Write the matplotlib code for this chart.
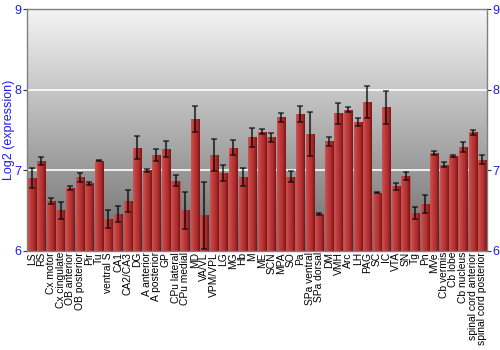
import numpy as np
import matplotlib
matplotlib.use('Agg')
import matplotlib.pyplot as plt
from matplotlib.colors import LinearSegmentedColormap

# regions and log2 expression (mean, error)
regions = ['LS', 'RS', 'Cx motor', 'Cx cingulate', 'OB anterior', 'OB posterior', 'Pir', 'Tu',
           'ventral S', 'CA1', 'CA2/CA3', 'DG', 'A anterior', 'A posterior', 'GP', 'CPu lateral',
           'CPu medial', 'MD', 'VA/VL', 'VPM/VPL', 'LG', 'MG', 'Hb', 'M', 'ME', 'SCN', 'MPA', 'SO',
           'Pa', 'SPa ventral', 'SPa dorsal', 'DM', 'VMH', 'Arc', 'LH', 'PAG', 'SC', 'IC', 'VTA',
           'SN', 'Tg', 'Pn', 'MVe', 'Cb vermis', 'Cb lobe', 'Cb nucleus', 'spinal cord anterior',
           'spinal cord posterior']
values = [6.90, 7.12, 6.62, 6.50, 6.78, 6.91, 6.84, 7.12,
          6.39, 6.46, 6.62, 7.28, 7.00, 7.19, 7.26, 6.87,
          6.50, 7.64, 6.44, 7.19, 6.97, 7.28, 6.92, 7.41, 7.48, 7.41, 7.66, 6.92,
          7.70, 7.45, 6.46, 7.36, 7.71, 7.75, 7.60, 7.85, 6.72, 7.78, 6.80,
          6.93, 6.47, 6.58, 7.21, 7.07, 7.18, 7.29, 7.47,
          7.13]
errors = [0.125, 0.05, 0.04, 0.11, 0.03, 0.06, 0.02, 0.005,
          0.11, 0.10, 0.14, 0.14, 0.02, 0.08, 0.10, 0.07,
          0.23, 0.16, 0.42, 0.20, 0.10, 0.095, 0.11, 0.12, 0.03, 0.055, 0.055, 0.065,
          0.10, 0.27, 0.012, 0.055, 0.13, 0.03, 0.05, 0.195, 0.005, 0.20, 0.04,
          0.05, 0.075, 0.11, 0.025, 0.03, 0.015, 0.065, 0.035,
          0.055]
yticks = [6, 7, 8, 9]

blue = '#1a1aff'
plt.rcParams['font.family'] = ['Liberation Sans', 'DejaVu Sans']

fig = plt.figure(figsize=(5, 3.5), dpi=100)
ax = fig.add_axes([0.054, 0.2837, 0.92, 0.6897])

# background gradient
bg = np.linspace(0, 1, 256).reshape(-1, 1)
bgmap = LinearSegmentedColormap.from_list('bg', ['#f4f4f4', '#6c6c6c'])
ax.imshow(bg, extent=[0, 1, 0, 1], transform=ax.transAxes, aspect='auto',
          cmap=bgmap, zorder=0)

for t in yticks[1:-1]:
    ax.axhline(t, color='white', lw=1.2, zorder=1)

x = np.arange(len(regions))
bars = ax.bar(x, np.array(values) - 6, bottom=6, width=0.86, color='#b03333',
              edgecolor='#c05a5a', linewidth=0.5, zorder=2)

# horizontal shading on each bar
barmap = LinearSegmentedColormap.from_list('bar', ['#d05252', '#bd3c3c', '#ad2e2e', '#7a1414'])
grad = np.linspace(0, 1, 64).reshape(1, -1)
for b in bars:
    im = ax.imshow(grad, extent=[b.get_x(), b.get_x() + b.get_width(), b.get_y(),
                                 b.get_y() + b.get_height()],
                   aspect='auto', cmap=barmap, zorder=2.5)
    im.set_clip_path(b)

ax.errorbar(x, values, yerr=errors, fmt='none', ecolor='black', alpha=0.65,
            elinewidth=1.5, capsize=2.5, capthick=1.2, zorder=3)

ax.set_xlim(-0.5, len(regions) - 0.5)
ax.set_ylim(6, 9)
ax.set_yticks(yticks)
ax.set_xticks(x)
ax.set_xticklabels(regions, rotation=90, fontsize=7.4, color='black')
ax.tick_params(axis='x', length=0, pad=1)
ax.tick_params(axis='y', left=True, right=True, labelleft=True, labelright=True,
               labelsize=9, labelcolor=blue, length=3, width=0.8, pad=1, color='#333333')
for s in ax.spines.values():
    s.set_color('#808080')
    s.set_linewidth(1)
ax.set_ylabel('Log2 (expression)', color=blue, fontsize=9)
ax.yaxis.set_label_coords(-0.026, 0.5)

fig.savefig('out.png', dpi=100)
